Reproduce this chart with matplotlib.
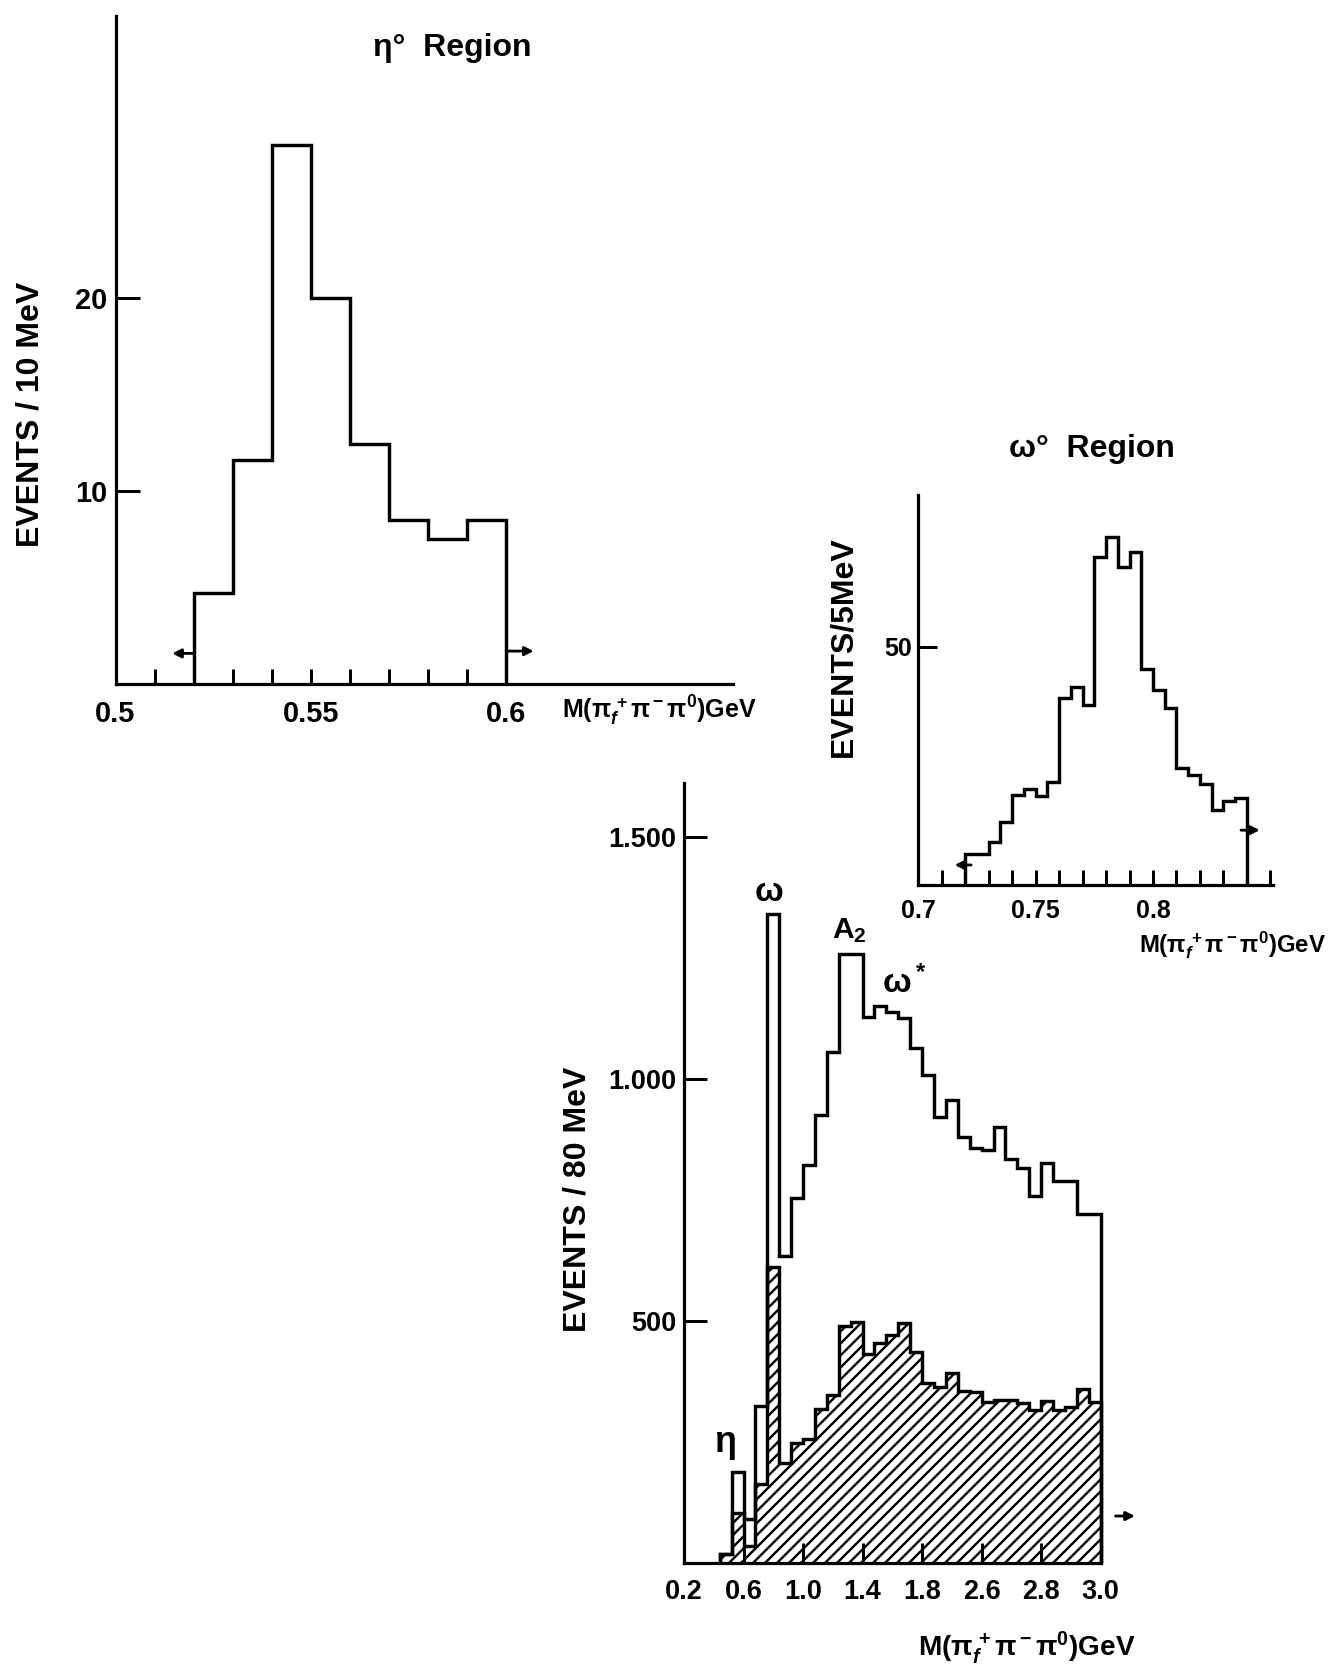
import numpy as np
import matplotlib
matplotlib.use("Agg")
import matplotlib.pyplot as plt

# ---- eta region, 10 MeV bins ----
eta_edges = [0.52, 0.53, 0.54, 0.55, 0.56, 0.57, 0.58, 0.59, 0.60]
eta_counts = [4.7, 11.6, 27.9, 20.0, 12.4, 8.5, 7.5, 8.5]
eta_xticks = [0.50, 0.51, 0.52, 0.53, 0.54, 0.55, 0.56, 0.57, 0.58, 0.59, 0.60]
eta_xlabels = ['0.5', '', '', '', '', '0.55', '', '', '', '', '0.6']
eta_yticks = [10, 20]

# ---- omega region, 5 MeV bins from 0.720 to 0.840 GeV ----
omega_edges = np.linspace(0.720, 0.840, 25)
omega_counts = [6.6, 6.6, 9.1, 13.3, 18.9, 20.1, 18.7, 21.5,
                39.2, 41.6, 37.8, 68.8, 72.9, 66.8, 69.9, 45.3,
                40.9, 37.1, 24.5, 23.1, 21.2, 15.7, 17.6, 18.3]
omega_xticks = [0.70, 0.71, 0.72, 0.73, 0.74, 0.75, 0.76, 0.77,
                0.78, 0.79, 0.80, 0.81, 0.82, 0.83, 0.84, 0.85]
omega_xlabels = ['0.7', '', '', '', '', '0.75', '', '', '', '', '0.8',
                 '', '', '', '', '']
omega_yticks = [50]

# ---- full mass spectrum, 80 MeV bins from 0.44 to 3.00 GeV ----
mass_edges = np.linspace(0.44, 3.00, 33)
all_counts = [18, 188, 90, 325, 1340, 634, 753, 822, 925, 1056, 1258, 1258,
              1128, 1151, 1139, 1125, 1063, 1008, 922, 956, 880, 858, 852,
              900, 834, 815, 757, 826, 790, 790, 721, 721]
cut_counts = [18, 104, 35, 163, 611, 206, 247, 257, 319, 347, 490, 498,
              432, 454, 471, 495, 436, 372, 364, 393, 356, 354, 333, 337,
              337, 331, 317, 335, 316, 323, 359, 333]
mass_xticks = [0.2, 0.6, 1.0, 1.4, 1.8, 2.2, 2.6, 3.0]
mass_xlabels = ['0.2', '0.6', '1.0', '1.4', '1.8', '2.6', '2.8', '3.0']
mass_yticks = [500, 1000, 1500]
mass_ylabels = ['500', '1.000', '1.500']

W, H, DPI = 1333, 1675, 144
plt.rcParams['font.family'] = ['Liberation Sans', 'DejaVu Sans']
plt.rcParams['font.weight'] = 'bold'
plt.rcParams['hatch.linewidth'] = 1.2
plt.rcParams['mathtext.fontset'] = 'custom'
plt.rcParams['mathtext.rm'] = 'Liberation Sans:bold'
plt.rcParams['mathtext.it'] = 'Liberation Sans:italic:bold'
plt.rcParams['mathtext.bf'] = 'Liberation Sans:bold'

fig = plt.figure(figsize=(W / DPI, H / DPI), dpi=DPI)
LW = 1.7


def add_panel(left, top, right, bottom):
    ax = fig.add_axes([left / W, 1 - bottom / H,
                       (right - left) / W, (bottom - top) / H])
    ax.patch.set_alpha(0)
    for side in ('top', 'right'):
        ax.spines[side].set_visible(False)
    for side in ('left', 'bottom'):
        ax.spines[side].set_linewidth(1.6)
    ax.tick_params(direction='in', width=1.5, colors='black', labelsize=14)
    return ax


def fig_text(x, y, s, **kw):
    fig.text(x / W, 1 - y / H, s, **kw)


def arrow(ax, x0, x1, y):
    ax.annotate('', xy=(x1, y), xytext=(x0, y), annotation_clip=False,
                arrowprops=dict(arrowstyle='-|>', lw=1.4, color='black',
                                mutation_scale=9, shrinkA=0, shrinkB=0))


mass_label = r'M(π$_f^{\,+}$π$^-$π$^0$)GeV'

# eta panel
ax1 = add_panel(115.5, 16, 733, 683.5)
ax1.stairs(eta_counts, eta_edges, baseline=0, color='black', lw=LW)
ax1.set_xlim(0.5, 0.658)
ax1.set_ylim(0, 34.6)
ax1.set_xticks(eta_xticks, eta_xlabels)
ax1.set_yticks(eta_yticks)
ax1.tick_params(axis='x', length=7.5, pad=8, labelsize=14.5)
ax1.tick_params(axis='y', length=12, pad=4, labelsize=14.5)
arrow(ax1, 0.520, 0.5145, 1.56)
arrow(ax1, 0.600, 0.607, 1.68)
fig_text(452, 48, 'η°  Region', fontsize=16, ha='center', va='center')
fig_text(31, 414, 'EVENTS / 10 MeV', fontsize=16, rotation=90,
         ha='center', va='center')
fig_text(562, 711, mass_label, fontsize=12.5, ha='left', va='center')

# omega panel
ax2 = add_panel(918.3, 495, 1272.7, 885)
ax2.stairs(omega_counts, omega_edges, baseline=0, color='black', lw=LW)
ax2.set_xlim(0.7, 0.851)
ax2.set_ylim(0, 81.8)
ax2.set_xticks(omega_xticks, omega_xlabels)
ax2.set_yticks(omega_yticks)
ax2.tick_params(axis='x', length=7.5, pad=7, labelsize=12.5)
ax2.tick_params(axis='y', length=9.5, pad=3, labelsize=12.5)
arrow(ax2, 0.7225, 0.7155, 4.2)
arrow(ax2, 0.8375, 0.8455, 11.5)
fig_text(1092, 449, 'ω°  Region', fontsize=16, ha='center', va='center')
fig_text(843, 647, 'EVENTS/5MeV', fontsize=16, rotation=90,
         ha='center', va='center')
fig_text(1326, 945, mass_label, fontsize=12, ha='right', va='center')

# full spectrum panel: hatched subsample under the full outline
ax3 = add_panel(684, 783, 1100.7, 1563)
ax3.stairs(cut_counts, mass_edges, baseline=0, fill=True, clip_on=False,
           facecolor='white', edgecolor='black', hatch='////', lw=LW)
ax3.stairs(all_counts, mass_edges, baseline=0, color='black', lw=LW,
           clip_on=False)
ax3.set_xlim(0.2, 3.0)
ax3.set_ylim(0, 1611)
ax3.set_xticks(mass_xticks, mass_xlabels)
ax3.set_yticks(mass_yticks, mass_ylabels)
ax3.tick_params(axis='x', length=10, pad=8, labelsize=13.5)
ax3.tick_params(axis='y', length=11.5, pad=4, labelsize=13.5)
arrow(ax3, 3.10, 3.23, 97)
ax3.text(0.771, 1384, 'ω', fontsize=17, ha='center', va='center')
ax3.text(1.309, 1307, r'A$_2$', fontsize=15, ha='center', va='center')
ax3.text(1.678, 1198, r'ω$^*$', fontsize=17, ha='center', va='center')
ax3.text(0.476, 248, 'η', fontsize=18, ha='center', va='center')
fig_text(577, 1199, 'EVENTS / 80 MeV', fontsize=16, rotation=90,
         ha='center', va='center')
fig_text(918, 1648, mass_label, fontsize=14, ha='left', va='center')

fig.savefig('out.png', dpi=DPI)
